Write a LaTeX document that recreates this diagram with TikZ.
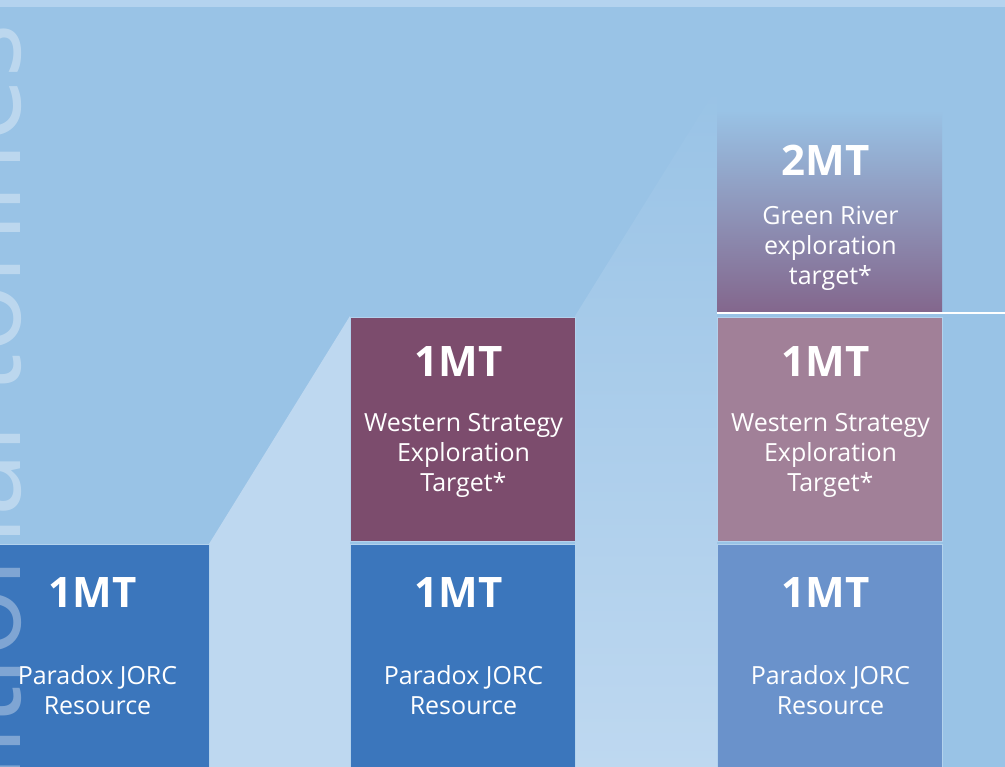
\documentclass[tikz,border=0pt]{standalone}
\usepackage{fontspec}
\setmainfont{Open Sans}
\usetikzlibrary{positioning, calc}

\definecolor{skyback}{HTML}{99C3E6}
\definecolor{skytop}{HTML}{B4D3EF}
\definecolor{skylight}{HTML}{BED8F0}
\definecolor{jorcblue}{HTML}{3B76BC}
\definecolor{jorcpale}{HTML}{6A92CB}
\definecolor{westplum}{HTML}{7C4C6D}
\definecolor{westpale}{HTML}{A18098}
\definecolor{greenplum}{HTML}{83668C}

\begin{document}
\begin{tikzpicture}[x=1pt, y=-1pt,
	block/.style={anchor=north west, inner sep=0pt, outer sep=0pt, minimum width=225pt, minimum height=224pt, draw=skylight!70!skyback, line width=0.8pt},
	amount/.style={text=white, font=\fontsize{42}{48}\selectfont\bfseries},
	caption/.style={text=white, align=center, font=\fontsize{25}{30}\selectfont}]
						\useasboundingbox (0,0) rectangle (1005,767);
						\clip (0,0) rectangle (1005,767);
						\fill[skyback] (0,0) rectangle (1005,767);
						\fill[skytop] (0,0) rectangle (1005,7);
						\fill[skylight] (209,544) -- (350,316) -- (350,767) -- (209,767) -- cycle;
						\shade[top color=skyback, middle color=skyback!60!skylight, bottom color=skylight] (575,316) -- (717,87) -- (717,767) -- (575,767) -- cycle;
						\node[block, fill=jorcblue] (jorc1) at (-16,544) {};
						\node[block, fill=westplum] (west2) at (350,317) {};
						\node[block, fill=jorcblue] (jorc2) at (350,544) {};
						\node[block, draw=none, minimum height=203pt, top color=skyback, bottom color=greenplum] (green3) at (717,110) {};
						\node[block, fill=westpale] (west3) at (717,317) {};
						\node[block, fill=jorcpale] (jorc3) at (717,544) {};
						\coordinate (rim) at (1005,314.5);
						\draw[white, line width=1.5pt] (green3.south west) -- (green3.south west -| rim);
						\node[rotate=90, anchor=base east, text=white, text opacity=0.35, font=\fontsize{115}{115}\selectfont] (goal) at (20,20) {Additional tonnes};
						\node[amount] (jorc1amt) at ($(jorc1.north)+(-4,49)$) {1MT};
						\node[caption] (jorc1txt) at ($(jorc1.north)+(1,146)$) {Paradox JORC\\Resource};
						\node[amount] (west2amt) at ($(west2.north)+(-4,45)$) {1MT};
						\node[caption] (west2txt) at ($(west2.north)+(1,138)$) {Western Strategy\\Exploration\\Target*};
						\node[amount] (jorc2amt) at ($(jorc2.north)+(-4,49)$) {1MT};
						\node[caption] (jorc2txt) at ($(jorc2.north)+(1,146)$) {Paradox JORC\\Resource};
						\node[amount] (green3amt) at ($(green3.north)+(-4,50)$) {2MT};
						\node[caption] (green3txt) at ($(green3.north)+(1,138)$) {Green River\\exploration\\target*};
						\node[amount] (west3amt) at ($(west3.north)+(-4,45)$) {1MT};
						\node[caption] (west3txt) at ($(west3.north)+(1,138)$) {Western Strategy\\Exploration\\Target*};
						\node[amount] (jorc3amt) at ($(jorc3.north)+(-4,49)$) {1MT};
						\node[caption] (jorc3txt) at ($(jorc3.north)+(1,146)$) {Paradox JORC\\Resource};
					\end{tikzpicture}
\end{document}
